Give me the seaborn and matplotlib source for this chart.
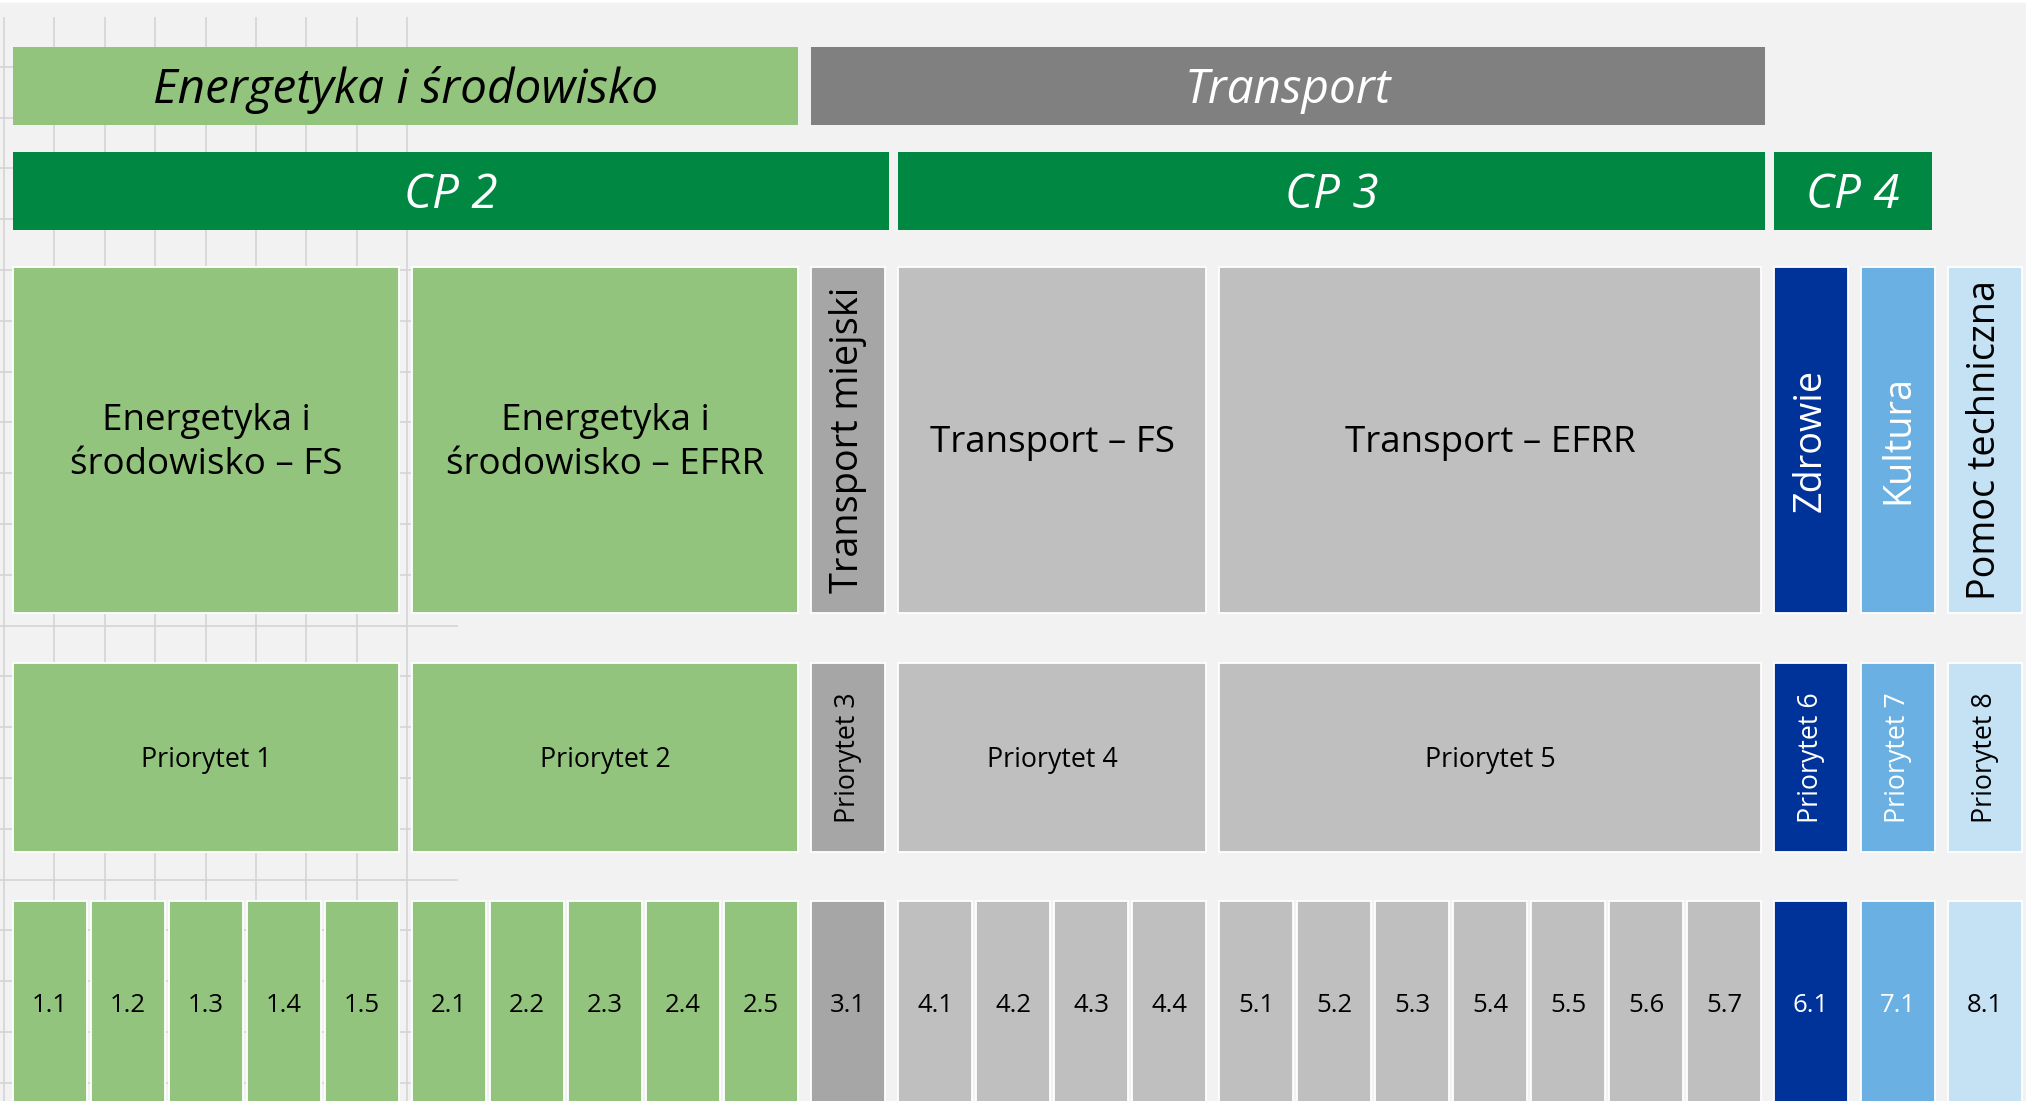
import matplotlib
matplotlib.use('Agg')
import matplotlib.pyplot as plt
import seaborn as sns

# structure of the programme: sectors -> CP -> areas -> priorities -> measures
sector_labels = ['Energetyka i środowisko', 'Transport']
sector_spans = [(0, 2), (2, 5)]          # priority index ranges
sector_colors = ['#93C47D', '#808080']
sector_text = ['black', 'white']

cp_labels = ['CP 2', 'CP 3', 'CP 4']
cp_spans = [(0, 3), (3, 5), (5, 7)]

area_labels = ['Energetyka i\nśrodowisko – FS', 'Energetyka i\nśrodowisko – EFRR',
               'Transport miejski', 'Transport – FS', 'Transport – EFRR',
               'Zdrowie', 'Kultura', 'Pomoc techniczna']
priority_labels = ['Priorytet 1', 'Priorytet 2', 'Priorytet 3', 'Priorytet 4',
                   'Priorytet 5', 'Priorytet 6', 'Priorytet 7', 'Priorytet 8']
measure_counts = [5, 5, 1, 4, 7, 1, 1, 1]

group_colors = ['#93C47D', '#93C47D', '#A6A6A6', '#BFBFBF', '#BFBFBF',
                '#003399', '#6AB0E2', '#C5E1F4']
group_text = ['black', 'black', 'black', 'black', 'black', 'white', 'white', 'black']

CP_COLOR = '#008842'
BG = '#F2F2F2'

sns.set_theme(style='white')
plt.rcParams['font.family'] = ['Open Sans', 'DejaVu Sans']

# layout (pixel units of the output image)
X0, PITCH, GAP_IN, GAP_GROUP = 13, 78, 4, 13
ROW_SECTOR = (47, 125)
ROW_CP = (152, 230)
ROW_AREA = (267, 613)
ROW_PRIO = (663, 852)
ROW_MEAS = (901, 1106)
DY = 3  # text sits a little below the geometric centre

fig = plt.figure(figsize=(20.26, 11.01), dpi=100)
fig.patch.set_facecolor('white')
ax = fig.add_axes([0, 0, 1, 1])
ax.set_xlim(0, 2026)
ax.set_ylim(1101, 0)
ax.set_facecolor(BG)
ax.axis('off')
ax.add_patch(plt.Rectangle((0, 3), 2026, 1100, color=BG, zorder=-2))

# faint drawing grid left over on the left side
ax.vlines([4 + 50.4 * k for k in range(9)], 17, 1101, color='#D4D4D4', lw=1.2, zorder=-1)
ax.hlines([16 + 50.8 * j for j in range(1, 22)], 0, 458, color='#D4D4D4', lw=1.2, zorder=-1)

# group x positions
starts, widths = [], []
cols_before = 0
for g, n in enumerate(measure_counts):
    starts.append(X0 + PITCH * cols_before + (GAP_GROUP - GAP_IN) * g)
    widths.append(PITCH * n - GAP_IN)
    cols_before += n
ends = [s + w for s, w in zip(starts, widths)]


def span_bar(spans, labels, colors, tcolors, row, ext):
    for (a, b), lab, c, tc, e in zip(spans, labels, colors, tcolors, ext):
        x, w = starts[a], ends[b - 1] - starts[a] + e
        ax.bar(x, row[1] - row[0], width=w, bottom=row[0], align='edge',
               color=c, edgecolor='none', zorder=2)
        ax.text(x + w / 2, (row[0] + row[1]) / 2 + 4, lab, ha='center', va='center',
                fontsize=34.3, style='italic', color=tc, zorder=3)


span_bar(sector_spans, sector_labels, sector_colors, sector_text, ROW_SECTOR, [0, 4])
span_bar(cp_spans, cp_labels, [CP_COLOR] * 3, ['white'] * 3, ROW_CP, [4, 4, -3])

for g, n in enumerate(measure_counts):
    x, w, c, tc = starts[g], widths[g], group_colors[g], group_text[g]
    rot = 90 if n == 1 else 0
    area_fs = 27.2 if rot else 26.5
    for row, lab, fs in [(ROW_AREA, area_labels[g], area_fs), (ROW_PRIO, priority_labels[g], 19.3)]:
        ax.bar(x, row[1] - row[0], width=w, bottom=row[0], align='edge',
               color=c, edgecolor='white', lw=1.3, zorder=2)
        ax.text(x + w / 2, (row[0] + row[1]) / 2 + (DY if rot == 0 else 0), lab,
                ha='center', va='center', fontsize=fs, rotation=rot, color=tc,
                zorder=3, linespacing=1.3)
    mx = [x + PITCH * i for i in range(n)]
    ax.bar(mx, ROW_MEAS[1] - ROW_MEAS[0], width=PITCH - GAP_IN, bottom=ROW_MEAS[0],
           align='edge', color=c, edgecolor='white', lw=1.3, zorder=2)
    for i, xi in enumerate(mx):
        ax.text(xi + (PITCH - GAP_IN) / 2, 1003 + DY, f'{g + 1}.{i + 1}', ha='center',
                va='center', fontsize=18.5, color=tc, zorder=3)

fig.savefig('out.png', dpi=100, facecolor='white')
